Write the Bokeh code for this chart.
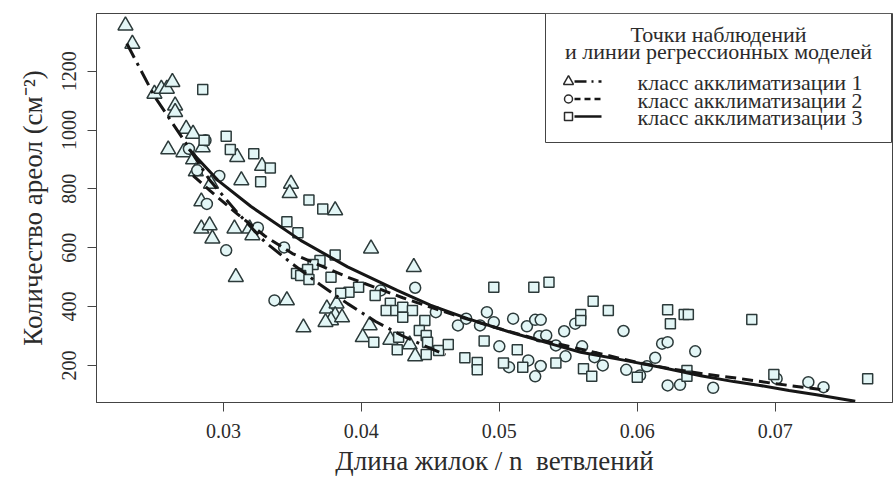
import math
from bokeh.plotting import figure
from bokeh.models import Range1d, FixedTicker
from bokeh.core.properties import value
from bokeh.embed import file_html
from bokeh.resources import INLINE

# ---------------- data ----------------
# class 1 (triangles)
tri_x = [0.0229, 0.0234, 0.0250, 0.0255, 0.0259, 0.0263, 0.0265, 0.0265, 0.0273, 0.0278,
         0.0260, 0.0271, 0.0285, 0.0278, 0.0310, 0.0328, 0.0313, 0.0280, 0.0291, 0.0349,
         0.0348, 0.0284, 0.0381, 0.0284, 0.0290, 0.0292, 0.0308, 0.0319, 0.0321, 0.0309,
         0.0346, 0.0358, 0.0407, 0.0438, 0.0375, 0.0382, 0.0381, 0.0378, 0.0374, 0.0386,
         0.0406, 0.0401, 0.0421, 0.0435, 0.0439]
tri_y = [1355, 1293, 1123, 1140, 1140, 1163, 1083, 1061, 1004, 987,
         934, 924, 941, 900, 908, 878, 829, 859, 817, 817,
         785, 757, 727, 665, 676, 631, 665, 665, 642, 500,
         421, 329, 597, 534, 393, 410, 370, 353, 347, 363,
         336, 296, 287, 271, 231]

# class 2 (circles)
circ_x = [0.0275, 0.0287, 0.0297, 0.0281, 0.0288, 0.0325, 0.0302, 0.0344, 0.0337, 0.0414,
          0.0439, 0.0454, 0.0470, 0.0476, 0.0486, 0.0491, 0.0496, 0.0500, 0.0510, 0.0520,
          0.0526, 0.0530, 0.0529, 0.0534, 0.0547, 0.0555, 0.0541, 0.0548, 0.0507, 0.0521,
          0.0530, 0.0526, 0.0560, 0.0590, 0.0618, 0.0622, 0.0642, 0.0569, 0.0575, 0.0592,
          0.0602, 0.0613, 0.0607, 0.0622, 0.0631, 0.0655, 0.0701, 0.0724, 0.0735]
circ_y = [936, 965, 844, 863, 749, 668, 591, 601, 421, 455,
          464, 381, 336, 359, 336, 381, 347, 265, 359, 333,
          355, 355, 299, 302, 316, 342, 268, 231, 194, 217,
          198, 163, 265, 317, 274, 279, 248, 228, 200, 185,
          166, 226, 197, 132, 134, 124, 155, 143, 126]

# class 3 (squares)
sq_x = [0.0285, 0.0302, 0.0305, 0.0322, 0.0334, 0.0327, 0.0286, 0.0362, 0.0372, 0.0346,
        0.0354, 0.0353, 0.0381, 0.0370, 0.0365, 0.0361, 0.0356, 0.0362, 0.0378, 0.0398,
        0.0391, 0.0385, 0.0410, 0.0421, 0.0418, 0.0425, 0.0430, 0.0437, 0.0430, 0.0446,
        0.0442, 0.0447, 0.0448, 0.0409, 0.0427, 0.0426, 0.0447, 0.0456, 0.0463, 0.0475,
        0.0484, 0.0484, 0.0496, 0.0525, 0.0536, 0.0489, 0.0513, 0.0503, 0.0517, 0.0541,
        0.0559, 0.0559, 0.0568, 0.0579, 0.0622, 0.0624, 0.0634, 0.0637, 0.0683, 0.0767,
        0.0561, 0.0567, 0.0600, 0.0636, 0.0636, 0.0699]
sq_y = [1138, 979, 934, 919, 871, 824, 965, 762, 732, 688,
        651, 512, 575, 557, 543, 526, 506, 492, 500, 466,
        449, 445, 438, 411, 387, 387, 398, 387, 364, 353,
        319, 302, 279, 279, 296, 253, 237, 251, 271, 226,
        210, 185, 466, 466, 483, 283, 253, 208, 194, 208,
        373, 353, 418, 387, 389, 342, 373, 373, 356, 155,
        189, 163, 160, 183, 163, 169]

# regression model curves
fit1_x = [0.0230, 0.0250, 0.0270, 0.0290, 0.0310, 0.0330, 0.0350, 0.0370, 0.0390, 0.0410, 0.0430, 0.0450, 0.0461]
fit1_y = [1294, 1115, 975, 830, 720, 620, 545, 475, 410, 350, 300, 258, 236]

fit2_x = [0.0278, 0.0290, 0.0310, 0.0330, 0.0350, 0.0370, 0.0390, 0.0410, 0.0430, 0.0450, 0.0475,
          0.0500, 0.0525, 0.0550, 0.0575, 0.0600, 0.0625, 0.0650, 0.0675, 0.0700, 0.0720, 0.0738]
fit2_y = [845, 795, 715, 640, 580, 540, 500, 465, 430, 398, 360,
          325, 292, 265, 238, 210, 188, 170, 155, 138, 126, 115]

fit3_x = [0.0275, 0.0296, 0.0320, 0.0356, 0.0390, 0.0426, 0.0450, 0.0477, 0.0510, 0.0540,
          0.0559, 0.0590, 0.0617, 0.0646, 0.0670, 0.0689, 0.0710, 0.0730, 0.0758]
fit3_y = [935, 829, 740, 625, 535, 455, 405, 359, 310, 270,
          245, 218, 194, 165, 145, 132, 115, 100, 78]

x_ticks = [0.03, 0.04, 0.05, 0.06, 0.07]
x_tick_labels = ["0.03", "0.04", "0.05", "0.06", "0.07"]
y_ticks = [200, 400, 600, 800, 1000, 1200]
y_tick_labels = ["200", "400", "600", "800", "1000", "1200"]

legend_title = ["Точки наблюдений", "и линии регрессионных моделей"]
legend_labels = ["класс акклиматизации 1", "класс акклиматизации 2", "класс акклиматизации 3"]
x_label = "Длина жилок / n\u00a0 ветвлений"
y_label = "Количество ареол (см⁻²)"

# ---------------- figure ----------------
W, H = 894, 479
FL, FR, FT, FB = 96, 892, 13, 402
X0, X1 = 0.0208, 0.0785
Y0, Y1 = 74, 1396

FONT = "Liberation Serif"
INK = "#2b2b2b"
AX = "#444444"
MK_LINE = "#2c3a3a"
MK_FILL = "#e3f6f6"

p = figure(width=W, height=H, x_range=Range1d(X0, X1), y_range=Range1d(Y0, Y1),
           output_backend="svg", toolbar_location=None,
           min_border_left=FL, min_border_right=W - FR,
           min_border_top=FT, min_border_bottom=H - FB)
p.background_fill_color = "white"
p.border_fill_color = "white"
p.outline_line_color = AX
p.outline_line_width = 1
p.xgrid.visible = False
p.ygrid.visible = False

for ax in (p.xaxis[0], p.yaxis[0]):
    ax.axis_line_color = AX
    ax.major_tick_line_color = AX
    ax.major_tick_in = 0
    ax.major_tick_out = 9
    ax.minor_tick_line_color = None
    ax.major_label_text_font = FONT
    ax.major_label_text_font_size = "20px"
    ax.major_label_text_color = INK
    ax.axis_label_text_font = FONT
    ax.axis_label_text_font_size = "27px"
    ax.axis_label_text_font_style = "normal"
    ax.axis_label_text_color = INK

p.xaxis.ticker = FixedTicker(ticks=x_ticks)
p.xaxis.major_label_overrides = {t: l for t, l in zip(x_ticks, x_tick_labels)}
p.xaxis.major_label_standoff = 12
p.xaxis.axis_label = x_label
p.xaxis.axis_label_standoff = 5

p.yaxis.ticker = FixedTicker(ticks=y_ticks)
p.yaxis.major_label_overrides = {t: l for t, l in zip(y_ticks, y_tick_labels)}
p.yaxis.major_label_orientation = "vertical"
p.yaxis.major_label_standoff = 11
p.yaxis.axis_label = y_label
p.yaxis.axis_label_standoff = 12

# observations
p.scatter(tri_x, tri_y, marker="triangle", size=15, fill_color=MK_FILL, line_color=MK_LINE, line_width=1.5)
p.scatter(circ_x, circ_y, marker="circle", size=11, fill_color=MK_FILL, line_color=MK_LINE, line_width=1.5)
p.scatter(sq_x, sq_y, marker="square", size=10, fill_color=MK_FILL, line_color=MK_LINE, line_width=1.5)

# regression lines
LINE_C = "#161616"
p.line(fit1_x, fit1_y, line_color=LINE_C, line_width=3, line_dash="16 6 3 6")
p.line(fit2_x, fit2_y, line_color=LINE_C, line_width=3, line_dash="11 6")
p.line(fit3_x, fit3_y, line_color=LINE_C, line_width=3)


# ---------------- legend (drawn by hand; positions are layout only) ----------------
def dx(px):
    return X0 + (px - FL) / (FR - FL) * (X1 - X0)


def dy(py):
    return Y1 - (py - FT) / (FB - FT) * (Y1 - Y0)


p.quad(left=[dx(545)], right=[dx(891)], top=[dy(13)], bottom=[dy(142)],
       fill_color="white", line_color=AX, line_width=1)

title_rows = [34, 51]
for txt, ry in zip(legend_title, title_rows):
    p.text(x=[dx(718)], y=[dy(ry)], text=[txt], text_align="center", text_baseline="middle",
           text_font=value(FONT), text_font_size="22px", text_color=INK)

row_y = [81, 98.5, 116]
markers = ["triangle", "circle", "square"]
msizes = [10, 8, 8]
dashes = ["12 5 2 5", "6 4", "solid"]
for ry, mk, ms, ds, lbl in zip(row_y, markers, msizes, dashes, legend_labels):
    p.scatter([dx(568)], [dy(ry)], marker=mk, size=ms, fill_color="white", line_color=INK, line_width=1.5)
    p.line([dx(574), dx(601)], [dy(ry), dy(ry)], line_color=LINE_C, line_width=2.5, line_dash=ds)
    p.text(x=[dx(637)], y=[dy(ry + 1)], text=[lbl], text_align="left", text_baseline="middle",
           text_font=value(FONT), text_font_size="22px", text_color=INK)

open("out.html", "w").write(file_html(p, INLINE))
